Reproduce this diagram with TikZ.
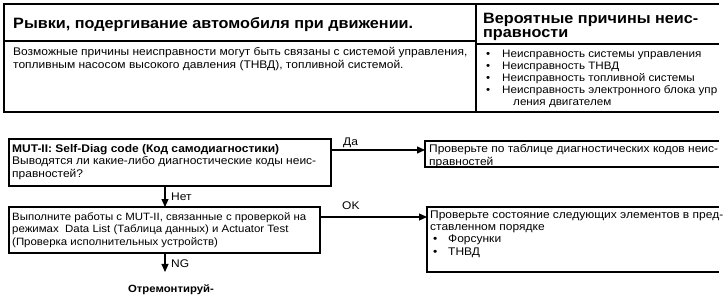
\documentclass[tikz,border=0pt]{standalone}
\usepackage{fontspec}
\setmainfont[FakeStretch=1.08]{Liberation Sans}
\usetikzlibrary{arrows.meta,calc}
\begin{document}
\begin{tikzpicture}[x=1pt,y=-1pt,
  lw/.style={line width=1.1pt},
  txt/.style={inner sep=0pt,anchor=base west,align=left,font=\fontsize{11.1}{12.1}\selectfont},
  btxt/.style={inner sep=0pt,anchor=base west,align=left,font=\fontsize{10.8}{12}\selectfont},
  hd/.style={inner sep=0pt,anchor=base west,align=left,font=\bfseries\fontsize{15}{13.5}\selectfont},
  lbl/.style={inner sep=0pt,anchor=base west,font=\fontsize{11.1}{12}\selectfont},
  box/.style={draw,lw,anchor=north west,inner sep=0pt,outer sep=0pt},
  obox/.style={anchor=north west,inner sep=0pt,outer sep=0pt},
  arr/.style={lw,-{Triangle[length=8pt,width=7pt]}}]
\useasboundingbox (0,0) rectangle (725,295);
% top table
\coordinate (tl) at (4,4);
\coordinate (tr) at (719,4);
\coordinate (bl) at (4,112);
\coordinate (br) at (719,112);
\coordinate (ct) at (476,4);
\coordinate (cb) at (476,112);
\coordinate (dl) at (4,41);
\coordinate (dm) at (476,41);
\coordinate (dn) at (476,44);
\coordinate (dr) at (719,44);
\draw[lw] (tr) -- (tl) -- (bl) -- (br);
\draw[lw] (ct) -- (cb);
\draw[lw] (dl) -- (dm);
\draw[lw] (dn) -- (dr);
\node[hd] (t1) at (13,28) {Рывки, подергивание автомобиля при движении.};
\node[hd] (t2) at (483,37) {Вероятные причины неис-\\правности};
\node[txt] (t3) at (13,68) {Возможные причины неисправности могут быть связаны с системой управления,\\топливным насосом высокого давления (ТНВД), топливной системой.};
\node[btxt] (t4) at (486,105) {\makebox[16pt][l]{•}Неисправность системы управления\\\makebox[16pt][l]{•}Неисправность ТНВД\\\makebox[16pt][l]{•}Неисправность топливной системы\\\makebox[16pt][l]{•}Неисправность электронного блока упр\\\hspace*{27pt}ления двигателем};
% flow boxes
\node[box,minimum width=322pt,minimum height=47pt] (b1) at (9,139) {};
\node[box,minimum width=311pt,minimum height=46pt] (b2) at (9,207) {};
\node[obox,minimum width=294pt,minimum height=26pt] (b3) at (425,141) {};
\node[obox,minimum width=292pt,minimum height=65pt] (b4) at (427,207) {};
\draw[lw] (b3.north east) -- (b3.north west) -- (b3.south west) -- (b3.south east);
\draw[lw] (b4.north east) -- (b4.north west) -- (b4.south west) -- (b4.south east);
\node[txt] (x1) at (12,177) {\textbf{MUT-II: Self-Diag code (Код самодиагностики)}\\Выводятся ли какие-либо диагностические коды неис-\\правностей?};
\node[txt,font=\fontsize{10.6}{12.1}\selectfont] (x2) at (12,245) {Выполните работы с MUT-II, связанные с проверкой на\\режимах\ \ Data List (Таблица данных) и Actuator Test\\(Проверка исполнительных устройств)};
\node[txt] (x3) at (429,165) {Проверьте по таблице диагностических кодов неис-\\правностей};
\node[txt] (x4) at (430,255) {Проверьте состояние следующих элементов в пред-\\ставленном порядке\\\hspace*{3pt}\makebox[15pt][l]{•}Форсунки\\\hspace*{3pt}\makebox[15pt][l]{•}ТНВД};
\node[inner sep=0pt,anchor=base,font=\bfseries\fontsize{10.5}{12}\selectfont] (rep) at (171,292) {Отремонтируй-};
\coordinate (nx) at (165,0);
% connectors
\draw[arr] ([yshift=-11pt]b1.north east) -- ([yshift=-9pt]b3.north west);
\draw[arr] ([yshift=-10pt]b2.north east) -- ([yshift=-10pt]b4.north west);
\draw[arr] (b1.south -| nx) -- (b2.north -| nx);
\draw[arr] (b2.south -| nx) -- ($(rep.north -| nx)+(0,-12)$);
\node[lbl] (l1) at (343,145) {Да};
\node[lbl] (l2) at (342,209) {OK};
\node[lbl] (l3) at (171,200) {Нет};
\node[lbl] (l4) at (171,267) {NG};
\end{tikzpicture}
\end{document}
